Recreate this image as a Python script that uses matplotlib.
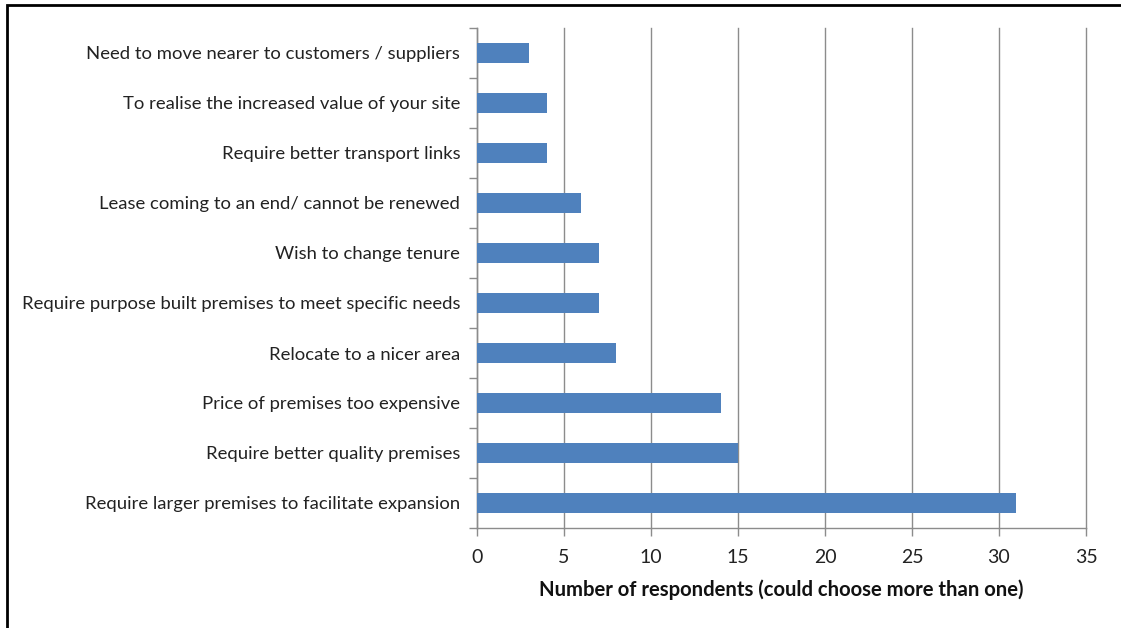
import matplotlib
matplotlib.use("Agg")
import matplotlib.pyplot as plt
from matplotlib.patches import Rectangle

plt.rcParams['font.family'] = ['Lato', 'DejaVu Sans']

categories = [
    "Need to move nearer to customers / suppliers",
    "To realise the increased value of your site",
    "Require better transport links",
    "Lease coming to an end/ cannot be renewed",
    "Wish to change tenure",
    "Require purpose built premises to meet specific needs",
    "Relocate to a nicer area",
    "Price of premises too expensive",
    "Require better quality premises",
    "Require larger premises to facilitate expansion",
]
values = [3, 4, 4, 6, 7, 7, 8, 14, 15, 31]
x_ticks = [0, 5, 10, 15, 20, 25, 30, 35]
x_label = "Number of respondents (could choose more than one)"

W, H = 1121, 628
fig = plt.figure(figsize=(W / 100, H / 100), dpi=100)
ax = fig.add_axes([477 / W, 1 - 528 / H, (1086 - 477) / W, (528 - 28) / H])

n = len(categories)
ypos = list(range(n - 1, -1, -1))
ax.barh(ypos, values, height=0.4, color="#4F81BD", zorder=3)

ax.set_xlim(0, 35)
ax.set_ylim(-0.5, n - 0.5)
ax.set_xticks(x_ticks)
ax.set_xticklabels([str(t) for t in x_ticks], fontsize=14, color="#222222")
ax.xaxis.grid(True, color="#8c8c8c", linewidth=1.0, zorder=0)
for gl in ax.get_xgridlines():
    gl.set_clip_on(False)

# category labels centred on bars, ticks at category boundaries
ax.set_yticks(ypos)
ax.set_yticklabels(categories, fontsize=13.3, color="#222222")
ax.tick_params(axis="y", length=0, pad=12)
ax.set_yticks([i - 0.5 for i in range(n + 1)], minor=True)
ax.tick_params(axis="y", which="minor", length=6, color="#8c8c8c", width=1)
ax.tick_params(axis="x", length=6, color="#8c8c8c", width=1, pad=9)

for s in ["top", "right"]:
    ax.spines[s].set_visible(False)
for s in ["left", "bottom"]:
    ax.spines[s].set_color("#8c8c8c")
    ax.spines[s].set_linewidth(1.0)

ax.set_xlabel(x_label, fontsize=14.6, fontweight="bold", color="#111111", labelpad=10)

# outer frame around the chart area
fig.patches.append(Rectangle((7 / W, -0.05), 1.0, 1 - 5 / H + 0.05,
                             transform=fig.transFigure, fill=False,
                             edgecolor="black", linewidth=2.0))

fig.savefig("out.png", dpi=100)
